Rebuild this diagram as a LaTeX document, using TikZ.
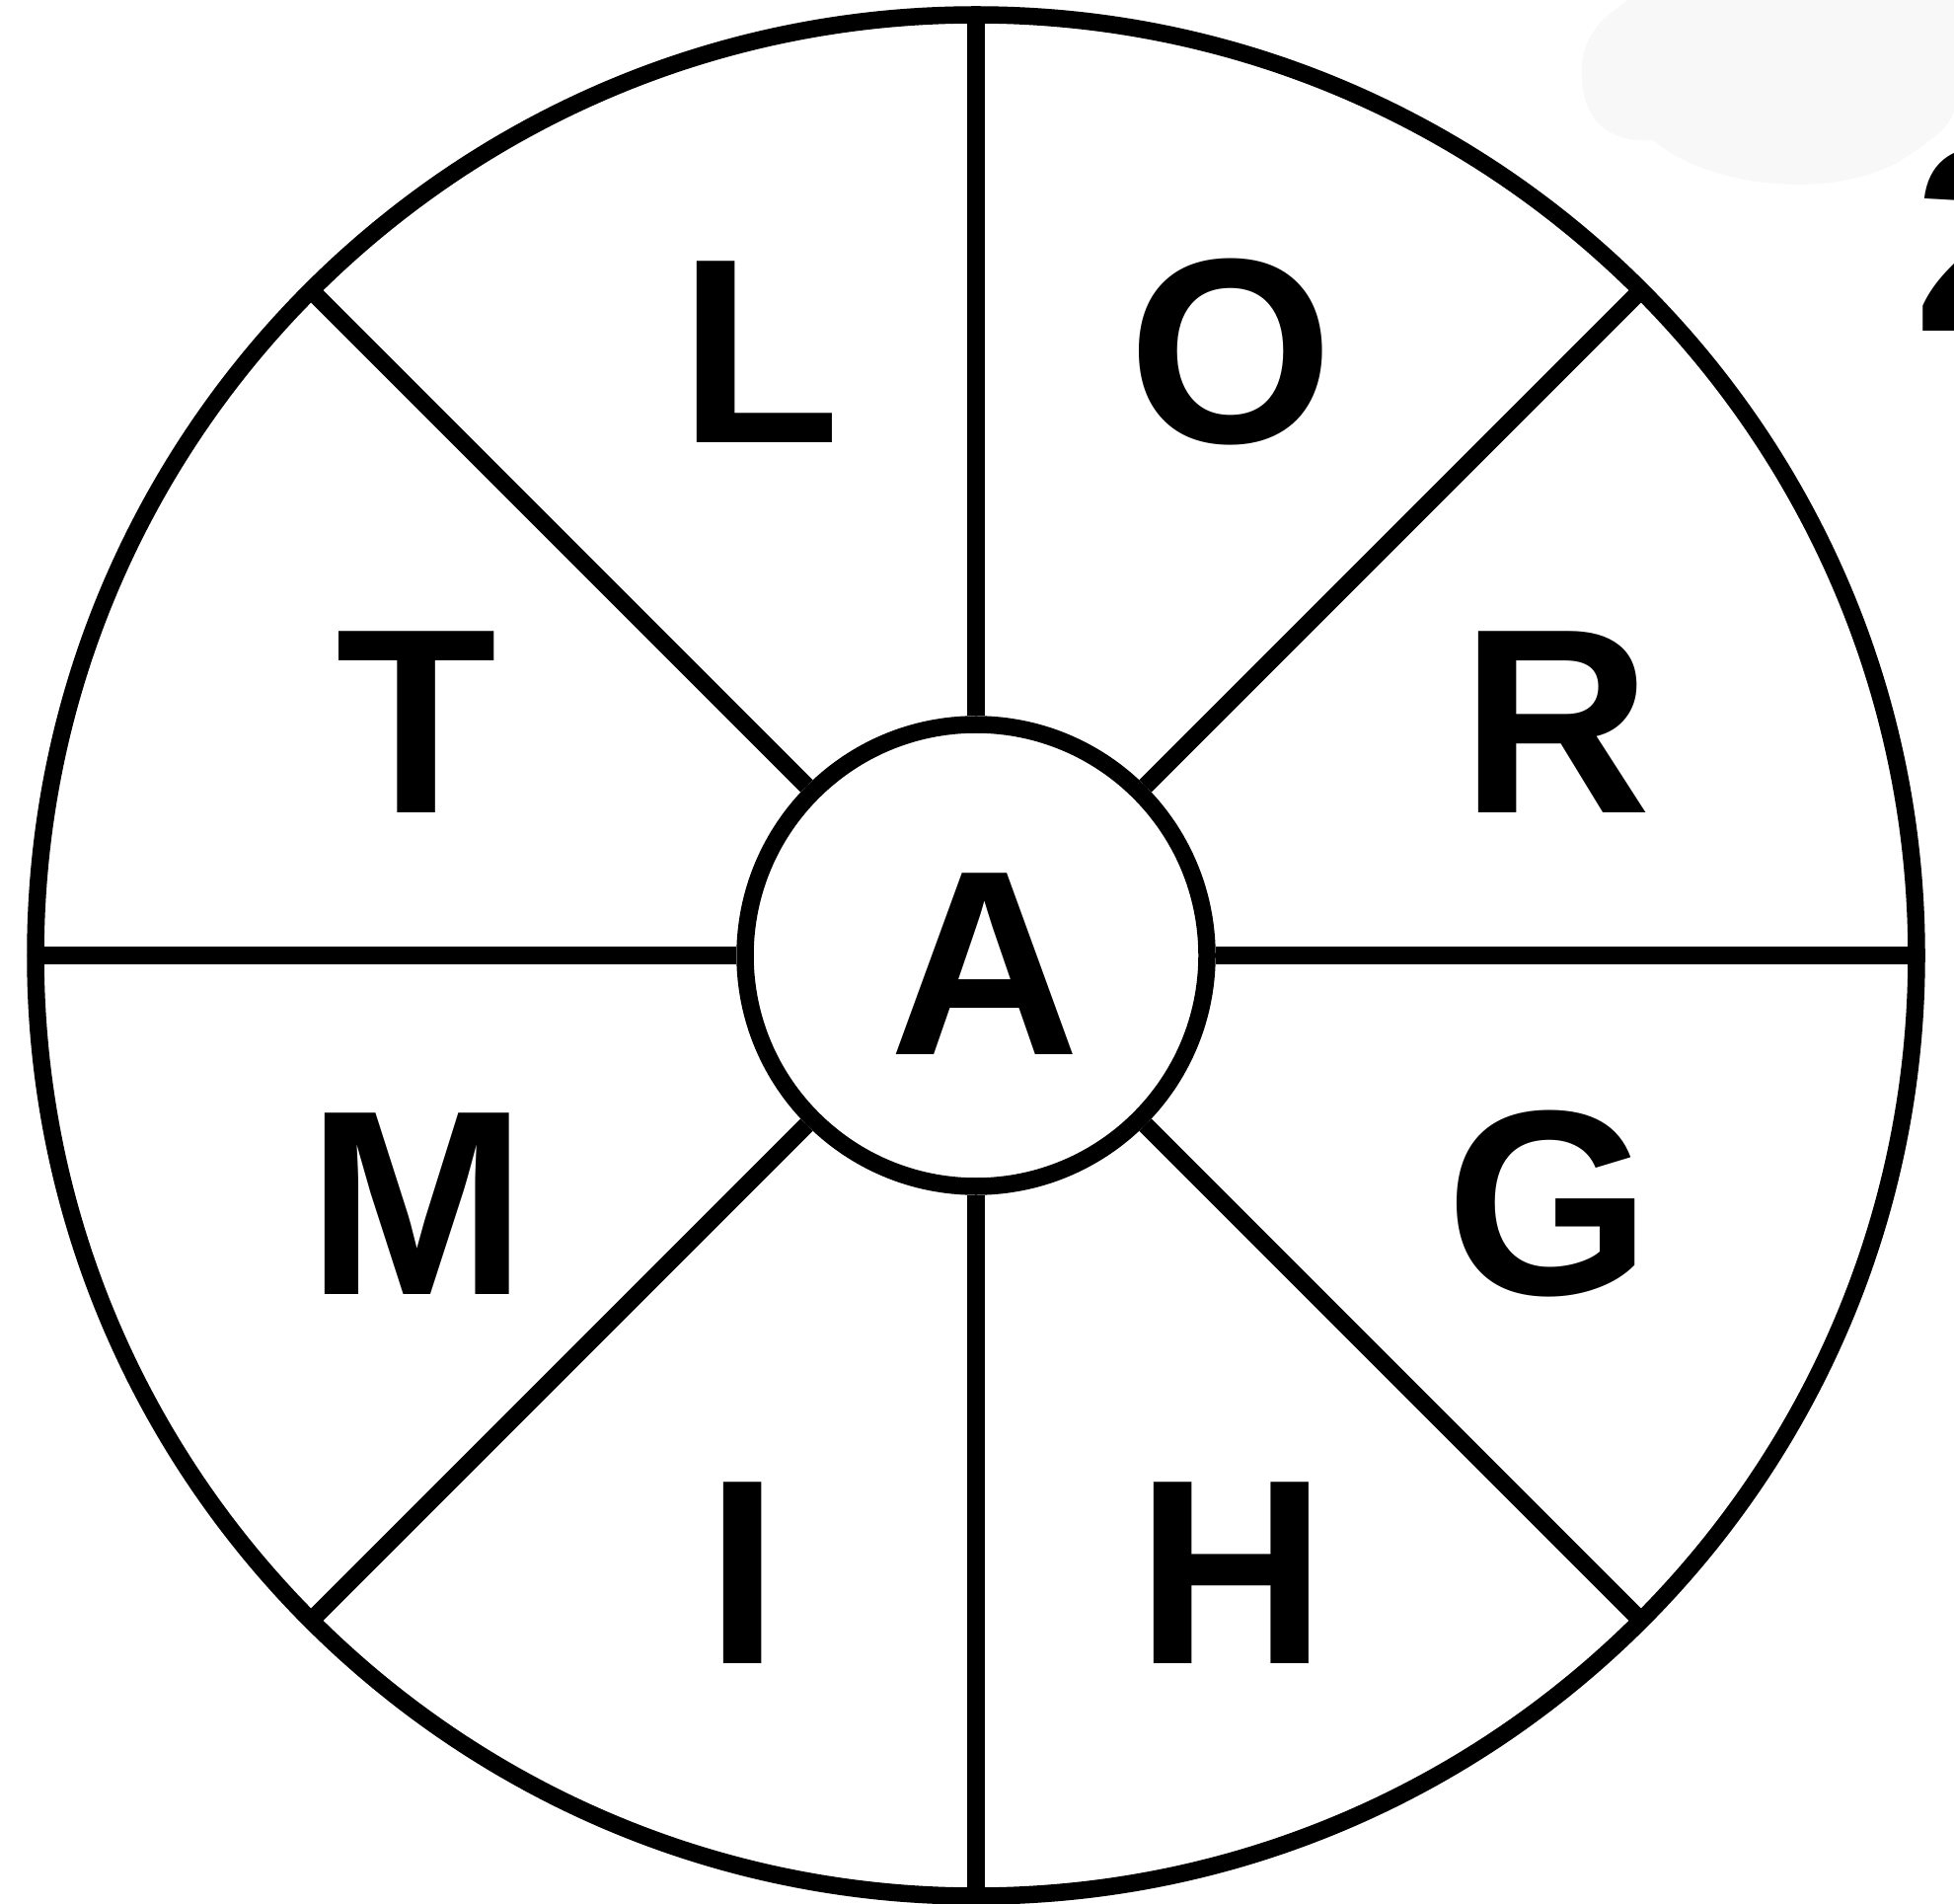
\documentclass[tikz,border=0pt]{standalone}
\usepackage{fontspec}
\setmainfont{Liberation Sans}
\usepackage{xcolor}
\usepackage{tikz}

\definecolor{blobgray}{HTML}{F8F8F8}

\begin{document}
\begin{tikzpicture}[x=1cm, y=-1cm,
  ring/.style={draw, circle, line width=0.175cm, inner sep=0pt},
  spoke/.style={line width=0.175cm},
  letter/.style={font=\bfseries\fontsize{76}{80}\selectfont, inner sep=0pt}]

\useasboundingbox (0,0) rectangle (19.80,19.29);

% faint smudge in the corner
\fill[blobgray] (16.50,0) .. controls (16.20,0.20) and (16.00,0.40) .. (16.03,0.80)
  .. controls (16.05,1.30) and (16.40,1.45) .. (16.75,1.42)
  .. controls (17.30,1.90) and (18.60,2.05) .. (19.30,1.60)
  .. controls (19.70,1.35) and (19.80,1.20) .. (19.80,1.10) -- (19.80,0) -- cycle;

\node[ring, minimum size=19.06cm, outer sep=0pt] (rim) at (9.89,9.68) {};
\node[ring, minimum size=4.68cm] (hub) at (9.89,9.68) {};

\foreach \a in {0,45,...,315}
  \draw[spoke] (hub.\a) -- (rim.\a);

\node[letter] (A) at (9.98,9.77) {A};

\node[letter] (L) at (7.70,3.57) {L};
\node[letter] (O) at (12.47,3.57) {O};
\node[letter] (T) at (4.22,7.32) {T};
\node[letter] (R) at (15.77,7.32) {R};
\node[letter] (M) at (4.23,12.20) {M};
\node[letter] (G) at (15.69,12.20) {G};
\node[letter] (I) at (7.53,15.94) {I};
\node[letter] (H) at (12.48,15.94) {H};

\node[letter, anchor=west] (two) at (19.39,2.42) {2};

\end{tikzpicture}
\end{document}
